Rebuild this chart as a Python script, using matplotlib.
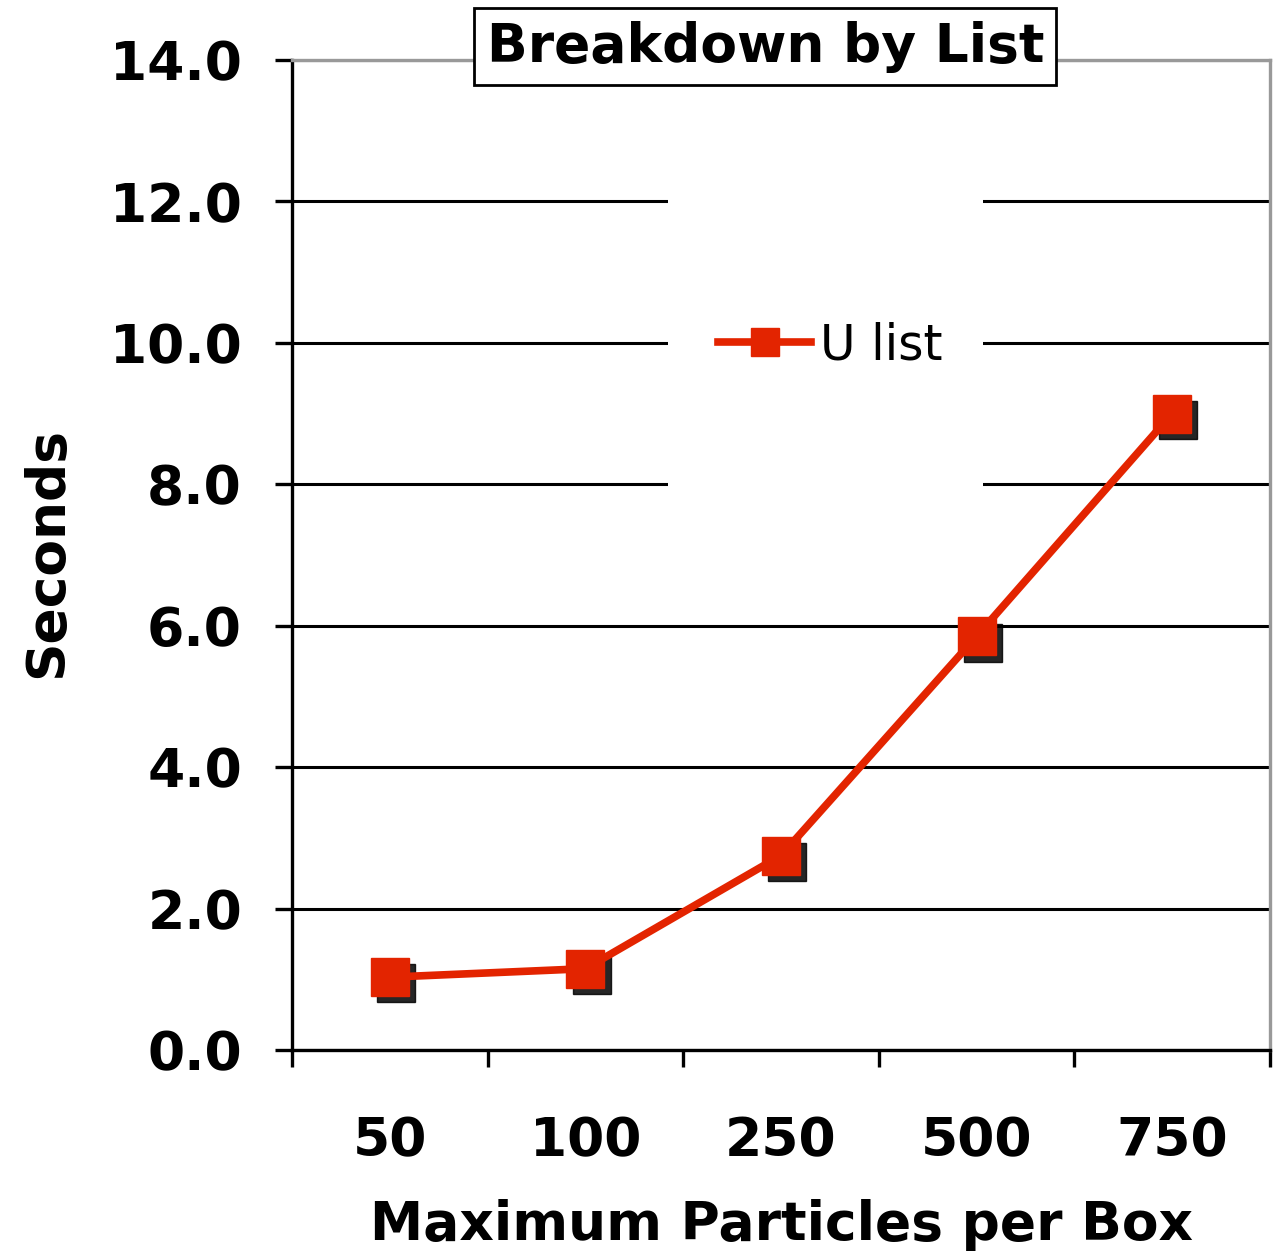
import numpy as np
import matplotlib.pyplot as plt
import matplotlib.transforms as mtransforms
from matplotlib.patches import Rectangle

categories = ['50', '100', '250', '500', '750']
u_list = [1.03, 1.15, 2.75, 5.85, 9.0]
yticks = [0, 2, 4, 6, 8, 10, 12, 14]

red = '#E32400'
plt.rcParams['font.family'] = 'DejaVu Sans'
fs = 38.5

fig = plt.figure(figsize=(12.84, 12.51), dpi=100)
ax = fig.add_axes([292/1284, 1 - 1050/1251, 978/1284, 990/1251])

x = np.arange(len(categories))
ax.set_xlim(-0.5, len(categories) - 0.5)
ax.set_ylim(0, 14)

ax.set_axisbelow(True)
ax.set_yticks(yticks)
ax.set_yticklabels(['%.1f' % v for v in yticks], fontsize=fs, fontweight='bold')
ax.yaxis.grid(True, color='black', lw=2.2)
ax.tick_params(axis='y', length=12, width=2.4, pad=24)

# x ticks at category boundaries, labels at centres
ax.set_xticks(np.arange(len(categories) + 1) - 0.5)
ax.set_xticklabels([])
ax.tick_params(axis='x', which='major', length=12, width=2.4)
ax.set_xticks(x, minor=True)
ax.set_xticklabels(categories, minor=True, fontsize=fs, fontweight='bold')
ax.tick_params(axis='x', which='minor', length=0, pad=47)

for s in ['left', 'bottom']:
    ax.spines[s].set_linewidth(2.4)
    ax.spines[s].set_color('black')
for s in ['top', 'right']:
    ax.spines[s].set_linewidth(2.4)
    ax.spines[s].set_color('#999999')

# white area behind the legend
ax.add_patch(Rectangle((0.3845, 0.545), 0.322, 0.344, transform=ax.transAxes,
                       facecolor='white', edgecolor='none', zorder=1))

shadow = mtransforms.offset_copy(ax.transData, fig=fig, x=4.5, y=-4.5, units='points')
ax.plot(x, u_list, 's', color='black', ms=28, transform=shadow, zorder=2.5, alpha=0.85)
ax.plot(x, u_list, '-s', color=red, lw=5.5, ms=28, zorder=3, label='U list')

ax.legend(loc='center left', bbox_to_anchor=(0.436, 0.712), frameon=False,
          fontsize=35, handlelength=1.9, handletextpad=0.2, borderpad=0,
          borderaxespad=0, markerscale=0.7)

ax.set_ylabel('Seconds', fontsize=fs, fontweight='bold')
ax.yaxis.set_label_coords(-0.224, 0.503)
ax.set_xlabel('Maximum Particles per Box', fontsize=fs, fontweight='bold')
ax.xaxis.set_label_coords(0.5, -0.151)

ax.set_title('Breakdown by List', fontsize=fs, fontweight='bold', x=0.484, y=0.99,
             bbox=dict(facecolor='white', edgecolor='black', lw=2, pad=9))

fig.savefig('out.png', dpi=100)
